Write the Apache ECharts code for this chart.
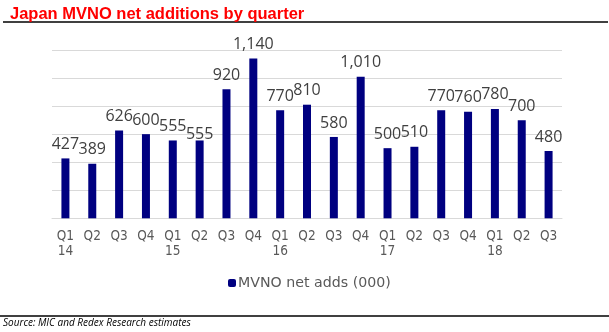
<!DOCTYPE html>
<html>
<head>
<meta charset="utf-8">
<script src="https://cdn.jsdelivr.net/npm/echarts@6/dist/echarts.min.js"></script>
<style>html,body{margin:0;padding:0;background:#fff}#c{width:609px;height:332px}</style>
</head>
<body>
<div id="c"></div>
<script>
const quarters = ['Q1','Q2','Q3','Q4','Q1','Q2','Q3','Q4','Q1','Q2','Q3','Q4','Q1','Q2','Q3','Q4','Q1','Q2','Q3'];
const years = ['14','','','','15','','','','16','','','','17','','','','18','',''];
const netAdds = [427,389,626,600,555,555,920,1140,770,810,580,1010,500,510,770,760,780,700,480];
const seriesName = 'MVNO net adds (000)';
const titleText = 'Japan MVNO net additions by quarter';
const sourceText = 'Source: MIC and Redex Research estimates';

const categories = quarters.map((q, i) => q + '\n' + years[i]);
const barData = netAdds.map((v, i) => i === 5 ? {value: v, label: {distance: -2}} : v);
const chart = echarts.init(document.getElementById('c'), null, {renderer: 'canvas'});
chart.setOption({
  animation: false,
  title: {
    text: titleText, left: 5, top: 1,
    textStyle: {color: '#ff0000', fontFamily: 'Liberation Sans, Arial', fontWeight: 'bold', fontSize: 16.5}
  },
  grid: {left: 52, right: 47, top: 50, height: 168.3},
  xAxis: {
    type: 'category', data: categories,
    axisLine: {lineStyle: {color: '#d9d9d9'}},
    axisTick: {show: false},
    axisLabel: {color: '#595959', fontSize: 13.5, lineHeight: 15, margin: 11, fontFamily: 'Liberation Sans Narrow, DejaVu Sans Condensed, sans-serif', interval: 0}
  },
  yAxis: {
    type: 'value', min: 0, max: 1200, interval: 200,
    axisLabel: {show: false}, axisLine: {show: false}, axisTick: {show: false},
    splitLine: {lineStyle: {color: '#d9d9d9'}}
  },
  legend: {
    data: [seriesName], bottom: 37, left: 223,
    itemWidth: 8, itemHeight: 8, itemGap: 4,
    textStyle: {color: '#595959', fontSize: 14.2, fontFamily: 'DejaVu Sans, sans-serif', padding: [0,0,0,-3]}
  },
  series: [{
    name: seriesName, type: 'bar', data: barData, barWidth: 8,
    itemStyle: {color: '#000080'},
    label: {show: true, position: 'top', distance: 6, color: '#404040', fontSize: 16, fontFamily: 'Open Sans, sans-serif',
      formatter: p => p.value.toLocaleString('en-US')}
  }],
  graphic: [
    {type: 'line', shape: {x1: 3, y1: 22, x2: 608, y2: 22}, style: {stroke: '#000', lineWidth: 1.5}},
    {type: 'line', shape: {x1: 0, y1: 316, x2: 609, y2: 316}, style: {stroke: '#000', lineWidth: 1.5}},
    {type: 'text', left: 3, top: 318, style: {text: sourceText, fill: '#000', font: 'italic 10px "Open Sans", sans-serif'}}
  ]
});
</script>
</body>
</html>
